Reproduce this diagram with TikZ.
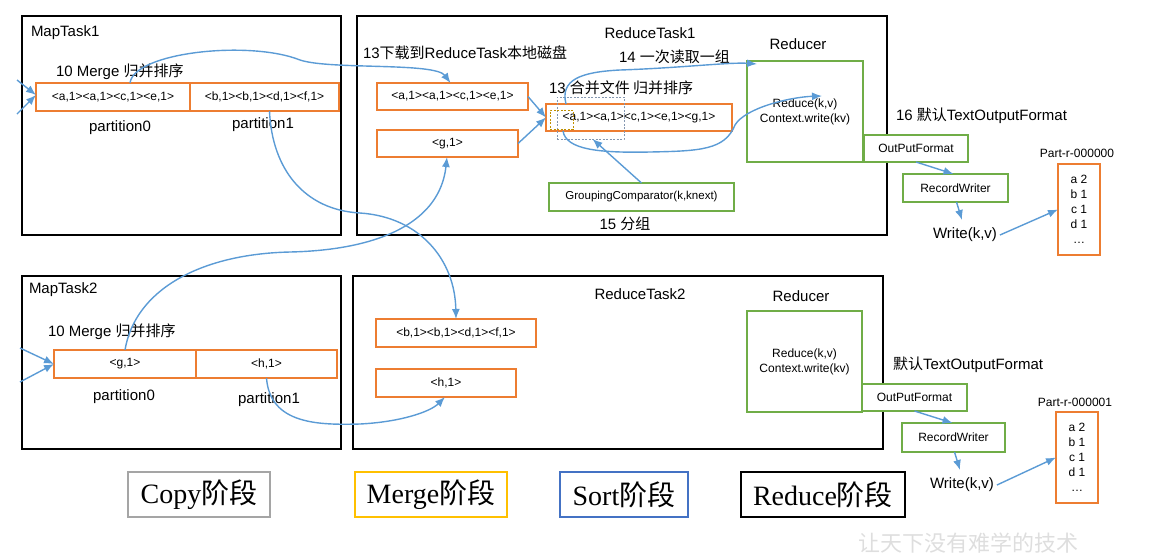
\documentclass[tikz,border=0pt]{standalone}
\usepackage{fontspec}
\setmainfont{Liberation Sans}
\newfontfamily\cjk{Noto Sans CJK SC}
\newfontfamily\tms{Liberation Serif}
\usetikzlibrary{arrows.meta}
\definecolor{orng}{HTML}{ED7D31}
\definecolor{grn}{HTML}{70AD47}
\definecolor{blu}{HTML}{5B9BD5}
\definecolor{gry}{HTML}{A5A5A5}
\definecolor{gold}{HTML}{FFC000}
\definecolor{sblue}{HTML}{4472C4}
\definecolor{dashblue}{HTML}{8497B0}
\definecolor{dashgold}{HTML}{BF9000}
\newcommand{\fsz}[1]{\fontsize{#1}{#1}\selectfont}
\begin{document}
\begin{tikzpicture}[x=1pt,y=-1pt,
  every node/.style={inner sep=0pt, outer sep=0pt},
  taskbox/.style={draw=black, line width=2pt},
  obox/.style={draw=orng, line width=1.8pt, font=\fsz{12}},
  gbox/.style={draw=grn, line width=1.6pt, font=\fsz{12}},
  lbl/.style={font=\fsz{15}},
  small/.style={font=\fsz{12}},
  arr/.style={draw=blu, line width=1.4pt, -{Latex[length=10pt,width=8pt]}},
  stage/.style={line width=1.5pt, font=\tms\fsz{28}},
  outbox/.style={draw=orng, line width=1.8pt, align=center, font=\fontsize{12}{15}\selectfont},
]
\useasboundingbox (0,0) rectangle (1173,558);

% task frames
\node[taskbox, minimum width=319, minimum height=219] (m1) at (181.5,125.5) {};
\node[taskbox, minimum width=530, minimum height=219] (r1) at (622,125.5) {};
\node[taskbox, minimum width=319, minimum height=173] (m2) at (181.5,362.5) {};
\node[taskbox, minimum width=530, minimum height=173] (r2) at (618,362.5) {};

% MapTask1
\node[lbl, anchor=west] (m1t) at (31,33) {MapTask1};
\node[lbl, anchor=west] (m1mg) at (56,72) {10 Merge {\cjk 归并排序}};
\node[obox, line width=1.5pt, minimum width=154, minimum height=28] (m1p0) at (113,97) {<a,1><a,1><c,1><e,1>};
\node[obox, line width=1.5pt, minimum width=149, minimum height=28] (m1p1) at (264.5,97) {<b,1><b,1><d,1><f,1>};
\node[lbl] (m1l0) at (120,128) {partition0};
\node[lbl] (m1l1) at (263,125) {partition1};

% MapTask2
\node[lbl, anchor=west] (m2t) at (29,290) {MapTask2};
\node[lbl, anchor=west] (m2mg) at (48,332) {10 Merge {\cjk 归并排序}};
\node[obox, line width=1.5pt, minimum width=142, minimum height=28] (m2p0) at (125,364) {<g,1>};
\node[obox, line width=1.5pt, minimum width=141, minimum height=28] (m2p1) at (266.5,364) {<h,1>};
\node[lbl] (m2l0) at (124,397) {partition0};
\node[lbl] (m2l1) at (269,400) {partition1};

% ReduceTask1
\node[lbl] (r1t) at (650,33) {ReduceTask1};
\node[lbl, anchor=west] (r1dl) at (363,53) {13{\cjk 下载到}ReduceTask{\cjk 本地磁盘}};
\node[lbl, anchor=west] (r1rd) at (619,57) {14 {\cjk 一次读取一组}};
\node[lbl, anchor=west] (r1mg) at (549,88) {13 {\cjk 合并文件 归并排序}};
\node[obox, line width=2pt, minimum width=151, minimum height=27] (r1a) at (452.5,96.5) {<a,1><a,1><c,1><e,1>};
\node[obox, line width=2pt, minimum width=141, minimum height=27] (r1g) at (447.5,143.5) {<g,1>};
\node[obox, line width=2.2pt, minimum width=186, minimum height=27] (r1m) at (639,117.5) {<a,1><a,1><c,1><e,1><g,1>};
\node[draw=dashblue, line width=0.9pt, dash pattern=on 2pt off 1.5pt, minimum width=67, minimum height=42] (dash1) at (590.5,118) {};
\node[draw=dashgold, line width=1pt, dash pattern=on 2pt off 1.5pt, minimum width=23, minimum height=19] (dash2) at (561.5,119.5) {};
\node[gbox, font=\fsz{11.5}, minimum width=185, minimum height=28] (grp) at (641.5,197) {GroupingComparator(k,knext)};
\node[lbl] (r1fz) at (625,224) {15 {\cjk 分组}};
\node[lbl] (r1rt) at (798,44) {Reducer};
\node[gbox, align=center, font=\fontsize{12}{15}\selectfont, minimum width=116, minimum height=101] (red1) at (805,111.5) {Reduce(k,v)\\Context.write(kv)};
\node[lbl, anchor=west] (tof1) at (896,116) {16 {\cjk 默认}TextOutputFormat};
\node[gbox, fill=white, minimum width=104, minimum height=27] (opf1) at (916,148.5) {OutPutFormat};
\node[gbox, minimum width=105, minimum height=28] (rw1) at (955.5,188) {RecordWriter};
\node[lbl, inner sep=3pt] (wr1) at (965,235) {Write(k,v)};
\node[small] (pr1) at (1077,153) {Part-r-000000};
\node[outbox, minimum width=42, minimum height=91] (out1) at (1079,209.5) {a 2\\b 1\\c 1\\d 1\\\ldots};

% ReduceTask2
\node[lbl] (r2t) at (640,294) {ReduceTask2};
\node[obox, line width=1.8pt, minimum width=160, minimum height=28] (r2b) at (456,333) {<b,1><b,1><d,1><f,1>};
\node[obox, line width=1.8pt, minimum width=140, minimum height=28] (r2h) at (446,383) {<h,1>};
\node[lbl] (r2rt) at (801,296) {Reducer};
\node[gbox, align=center, font=\fontsize{12}{15}\selectfont, minimum width=115, minimum height=101] (red2) at (804.5,361.5) {Reduce(k,v)\\Context.write(kv)};
\node[lbl, anchor=west] (tof2) at (893,365) {{\cjk 默认}TextOutputFormat};
\node[gbox, fill=white, minimum width=105, minimum height=27] (opf2) at (914.5,397.5) {OutPutFormat};
\node[gbox, minimum width=103, minimum height=29] (rw2) at (953.5,437.5) {RecordWriter};
\node[lbl, inner sep=3pt] (wr2) at (962,485) {Write(k,v)};
\node[small] (pr2) at (1075,402) {Part-r-000001};
\node[outbox, minimum width=42, minimum height=91] (out2) at (1077,457.5) {a 2\\b 1\\c 1\\d 1\\\ldots};

% stage legend
\node[stage, draw=gry, minimum width=142, minimum height=45] (scp) at (199,494.5) {Copy{\cjk 阶段}};
\node[stage, draw=gold, minimum width=152, minimum height=45] (smg) at (431,494.5) {Merge{\cjk 阶段}};
\node[stage, draw=sblue, minimum width=128, minimum height=45] (sst) at (624,494.5) {Sort{\cjk 阶段}};
\node[stage, draw=black, minimum width=164, minimum height=45] (srd) at (823,494.5) {Reduce{\cjk 阶段}};

% watermark
\node[text=black!13, font=\cjk\fsz{22}] (wm) at (968,543) {让天下没有难学的技术};

% free ends
\coordinate (in1a) at (17,80);
\coordinate (in1b) at (17,114);
\coordinate (in2a) at (20,348);
\coordinate (in2b) at (20,382);

% connectors
\draw[arr] (in1a) -- ([yshift=2]m1p0.west);
\draw[arr] (in1b) -- ([yshift=2]m1p0.west);
\draw[arr] (in2a) -- (m2p0.west);
\draw[arr] (in2b) -- (m2p0.west);

\draw[arr] ([xshift=17]m1p0.north) .. controls (134,52) and (250,40) .. (300,60)
  .. controls (330,70) and (435,62) .. ([xshift=-2]r1a.north);
\draw[arr] ([xshift=5]m1p1.south) .. controls (272,170) and (305,210) .. (360,213)
  .. controls (420,217) and (455,260) .. (r2b.north);
\draw[arr] (m2p0.north) .. controls (135,290) and (200,254) .. (290,252)
  .. controls (380,250) and (440,222) .. ([xshift=-0.5]r1g.south);
\draw[arr] ([xshift=0]m2p1.south) .. controls (270,425) and (320,425) .. (360,424)
  .. controls (400,422) and (430,412) .. ([xshift=-1]r2h.south);

\draw[arr] (r1a.east) -- (r1m.west);
\draw[arr] (r1g.east) -- (r1m.west);
\draw[arr] (grp.north) -- ([xshift=2]dash1.south);
\draw[arr] ([xshift=-73]r1m.north) .. controls (560,80) and (580,72) .. (620,70)
  .. controls (680,68) and (730,62) .. ([xshift=10,yshift=-3]red1.north west);
\draw[arr] ([xshift=-76]r1m.south) .. controls (566,150) and (600,153) .. (650,152)
  .. controls (700,151) and (725,150) .. (735,125)
  .. controls (745,108) and (790,97) .. ([xshift=17,yshift=-35]red1.north);

\draw[arr] (opf1.south) -- ([xshift=-2]rw1.north);
\draw[arr] ([xshift=1]rw1.south) -- ([xshift=-3,yshift=5]wr1.north);
\draw[arr] (wr1.east) -- (out1.west);
\draw[arr] (opf2.south) -- ([xshift=-1]rw2.north);
\draw[arr] ([xshift=1]rw2.south) -- ([xshift=-2,yshift=5]wr2.north);
\draw[arr] (wr2.east) -- (out2.west);
\end{tikzpicture}
\end{document}
